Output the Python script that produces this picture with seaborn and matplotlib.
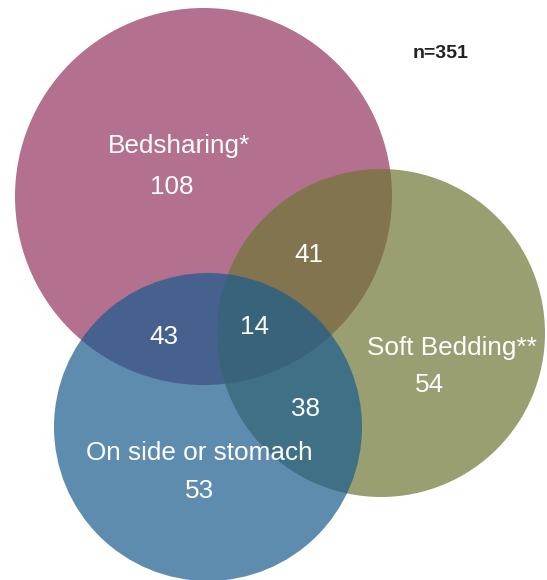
import matplotlib
matplotlib.use("Agg")
import matplotlib.pyplot as plt
from matplotlib.patches import Circle
import seaborn as sns

# data
set_names = ["Bedsharing*", "Soft Bedding**", "On side or stomach"]
only_counts = [108, 54, 53]          # pink only, green only, blue only
pair_names = ["bed+soft", "bed+side", "soft+side"]
pair_counts = [41, 43, 38]
all_three = 14
n_total = 351

# layout (pixel space, y down): circle centres / radii, label positions
circle_xy = [(203.5, 196.5), (381, 333), (208, 427)]
circle_r = [188.5, 164, 154]
name_xy = [(179, 153.5), (452, 355.5), (199.5, 460.5)]
only_xy = [(172, 194.5), (429, 392.5), (199, 498.5)]
pair_xy = [(309, 262.5), (164, 343.5), (305, 416.5)]
center_xy = (255, 333.5)

sns.set_theme(style="white")
plt.rcParams["font.family"] = ["Liberation Sans", "DejaVu Sans"]
colors = sns.color_palette(["#943360", "#6e7733", "#195c8e"])

fig = plt.figure(figsize=(5.47, 5.8), dpi=100)
ax = fig.add_axes([0, 0, 1, 1])
ax.set_xlim(0, 547)
ax.set_ylim(580, 0)
ax.axis("off")

for (cx, cy), r, c in zip(circle_xy, circle_r, colors):
    ax.add_patch(Circle((cx, cy), r, facecolor=c, edgecolor="none", alpha=0.7))

txt = dict(color="white", fontsize=18.8, ha="center", va="baseline")
for name, (x, y) in zip(set_names, name_xy):
    ax.text(x, y, name, **txt)
for v, (x, y) in zip(only_counts, only_xy):
    ax.text(x, y, str(v), **txt)
for v, (x, y) in zip(pair_counts, pair_xy):
    ax.text(x, y, str(v), **txt)
ax.text(center_xy[0], center_xy[1], str(all_three), **txt)

ax.text(441, 58, f"n={n_total}", color="#222222", fontsize=14,
        fontweight="bold", ha="center", va="baseline")

fig.savefig("out.png", dpi=100)
